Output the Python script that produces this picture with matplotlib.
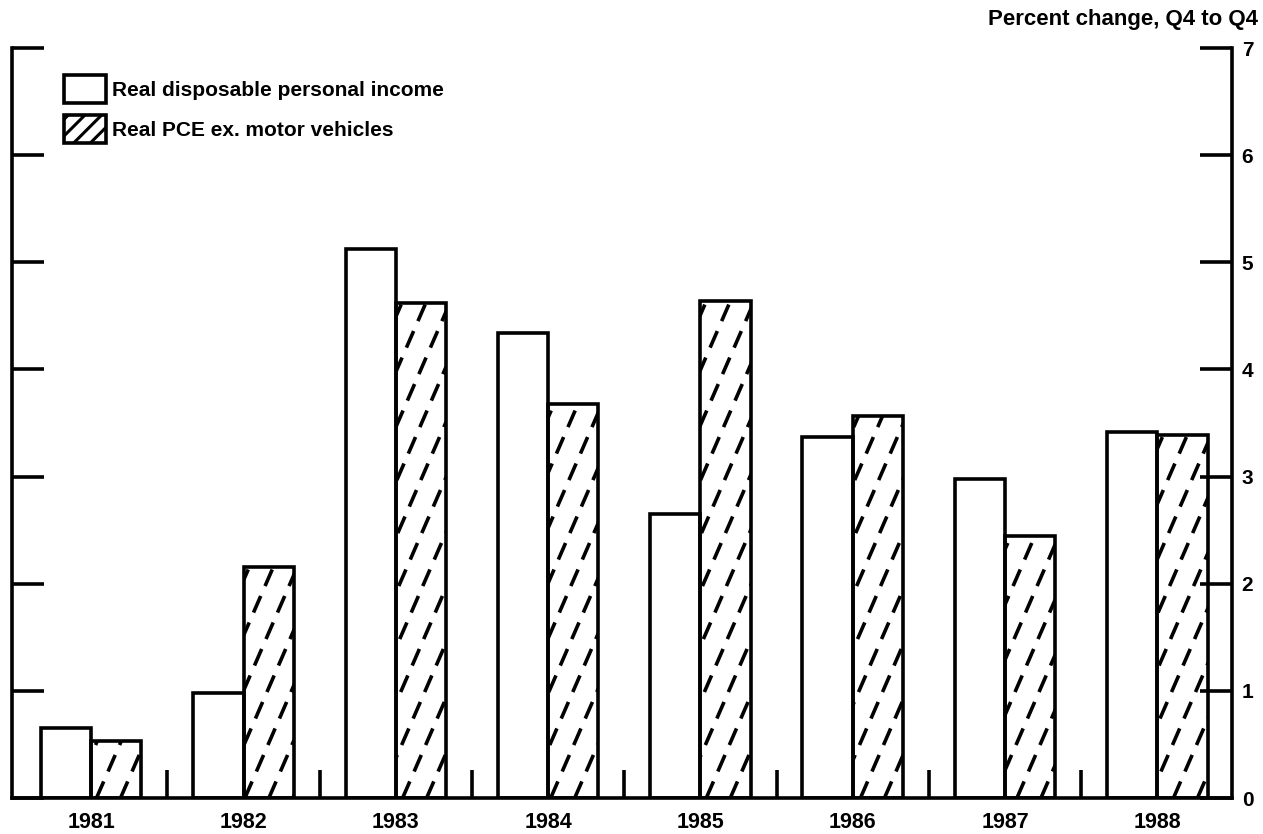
import numpy as np
import matplotlib
matplotlib.use('Agg')
import matplotlib.pyplot as plt
from matplotlib.patches import Patch

plt.rcParams['font.family'] = ['Liberation Sans', 'DejaVu Sans']
plt.rcParams['font.weight'] = 'bold'
plt.rcParams['hatch.linewidth'] = 2.2

# Data (percent change, Q4 to Q4)
years = ['1981', '1982', '1983', '1984', '1985', '1986', '1987', '1988']
income = [0.65, 0.98, 5.12, 4.34, 2.65, 3.37, 2.98, 3.42]
pce = [0.53, 2.16, 4.62, 3.68, 4.64, 3.57, 2.45, 3.39]
yticks = [0, 1, 2, 3, 4, 5, 6, 7]

fig = plt.figure(figsize=(12.63, 8.34), dpi=100)
ax = fig.add_axes([12 / 1263, 36 / 834, 1220 / 1263, 750 / 834])

x = np.arange(len(years))
w = 0.33
lw = 2.6

ax.set_xlim(-0.52, 7.49)
ax.set_ylim(0, 7)

ax.bar(x - w / 2, income, w, color='white', edgecolor='black', linewidth=lw, zorder=2)
hbars = ax.bar(x + w / 2, pce, w, color='none', edgecolor='black', linewidth=lw, zorder=3)

# steep dashed hatching, clipped to each bar
p0 = ax.transData.transform((0, 0))
sx = ax.transData.transform((1, 0))[0] - p0[0]
sy = ax.transData.transform((0, 1))[1] - p0[1]
slope = 2.3      # pixel rise per pixel run
spacing = 24     # horizontal pixels between lines
for rect in hbars:
    x0 = rect.get_x()
    h = rect.get_height()
    w_px = rect.get_width() * sx
    h_px = h * sy
    run = h_px / slope
    for off in np.arange(-run + 6, w_px + spacing, spacing):
        line, = ax.plot([x0 + off / sx, x0 + (off + run) / sx], [0, h],
                        color='black', lw=2.6, linestyle=(0, (5, 3)), zorder=2.5)
        line.set_clip_path(rect)

for side in ['left', 'right', 'bottom']:
    ax.spines[side].set_linewidth(lw)
ax.spines['top'].set_visible(False)

ax.set_yticks(yticks)
ax.tick_params(axis='y', which='major', left=True, right=True, labelleft=False,
               labelright=True, direction='in', length=23, width=lw, pad=7,
               labelsize=15)

ax.set_xticks(x)
ax.set_xticklabels(years)
ax.set_xticks(x[:-1] + 0.5, minor=True)
ax.tick_params(axis='x', which='major', length=0, pad=10, labelsize=15.5)
ax.tick_params(axis='x', which='minor', direction='in', length=20, width=lw)

fig.text(1258 / 1263, 1 - 20 / 834, 'Percent change, Q4 to Q4', ha='right', va='center',
         fontsize=16, fontweight='bold')

handles = [Patch(facecolor='white', edgecolor='black', linewidth=lw),
           Patch(facecolor='white', edgecolor='black', linewidth=lw, hatch='//')]
ax.legend(handles, ['Real disposable personal income', 'Real PCE ex. motor vehicles'],
          loc='upper left', bbox_to_anchor=(0.043, 0.964), frameon=False,
          borderpad=0, borderaxespad=0, handlelength=1.97, handleheight=1.68,
          labelspacing=0.58, handletextpad=0.3, prop={'size': 15, 'weight': 'bold'})

fig.savefig('out.png', dpi=100)
